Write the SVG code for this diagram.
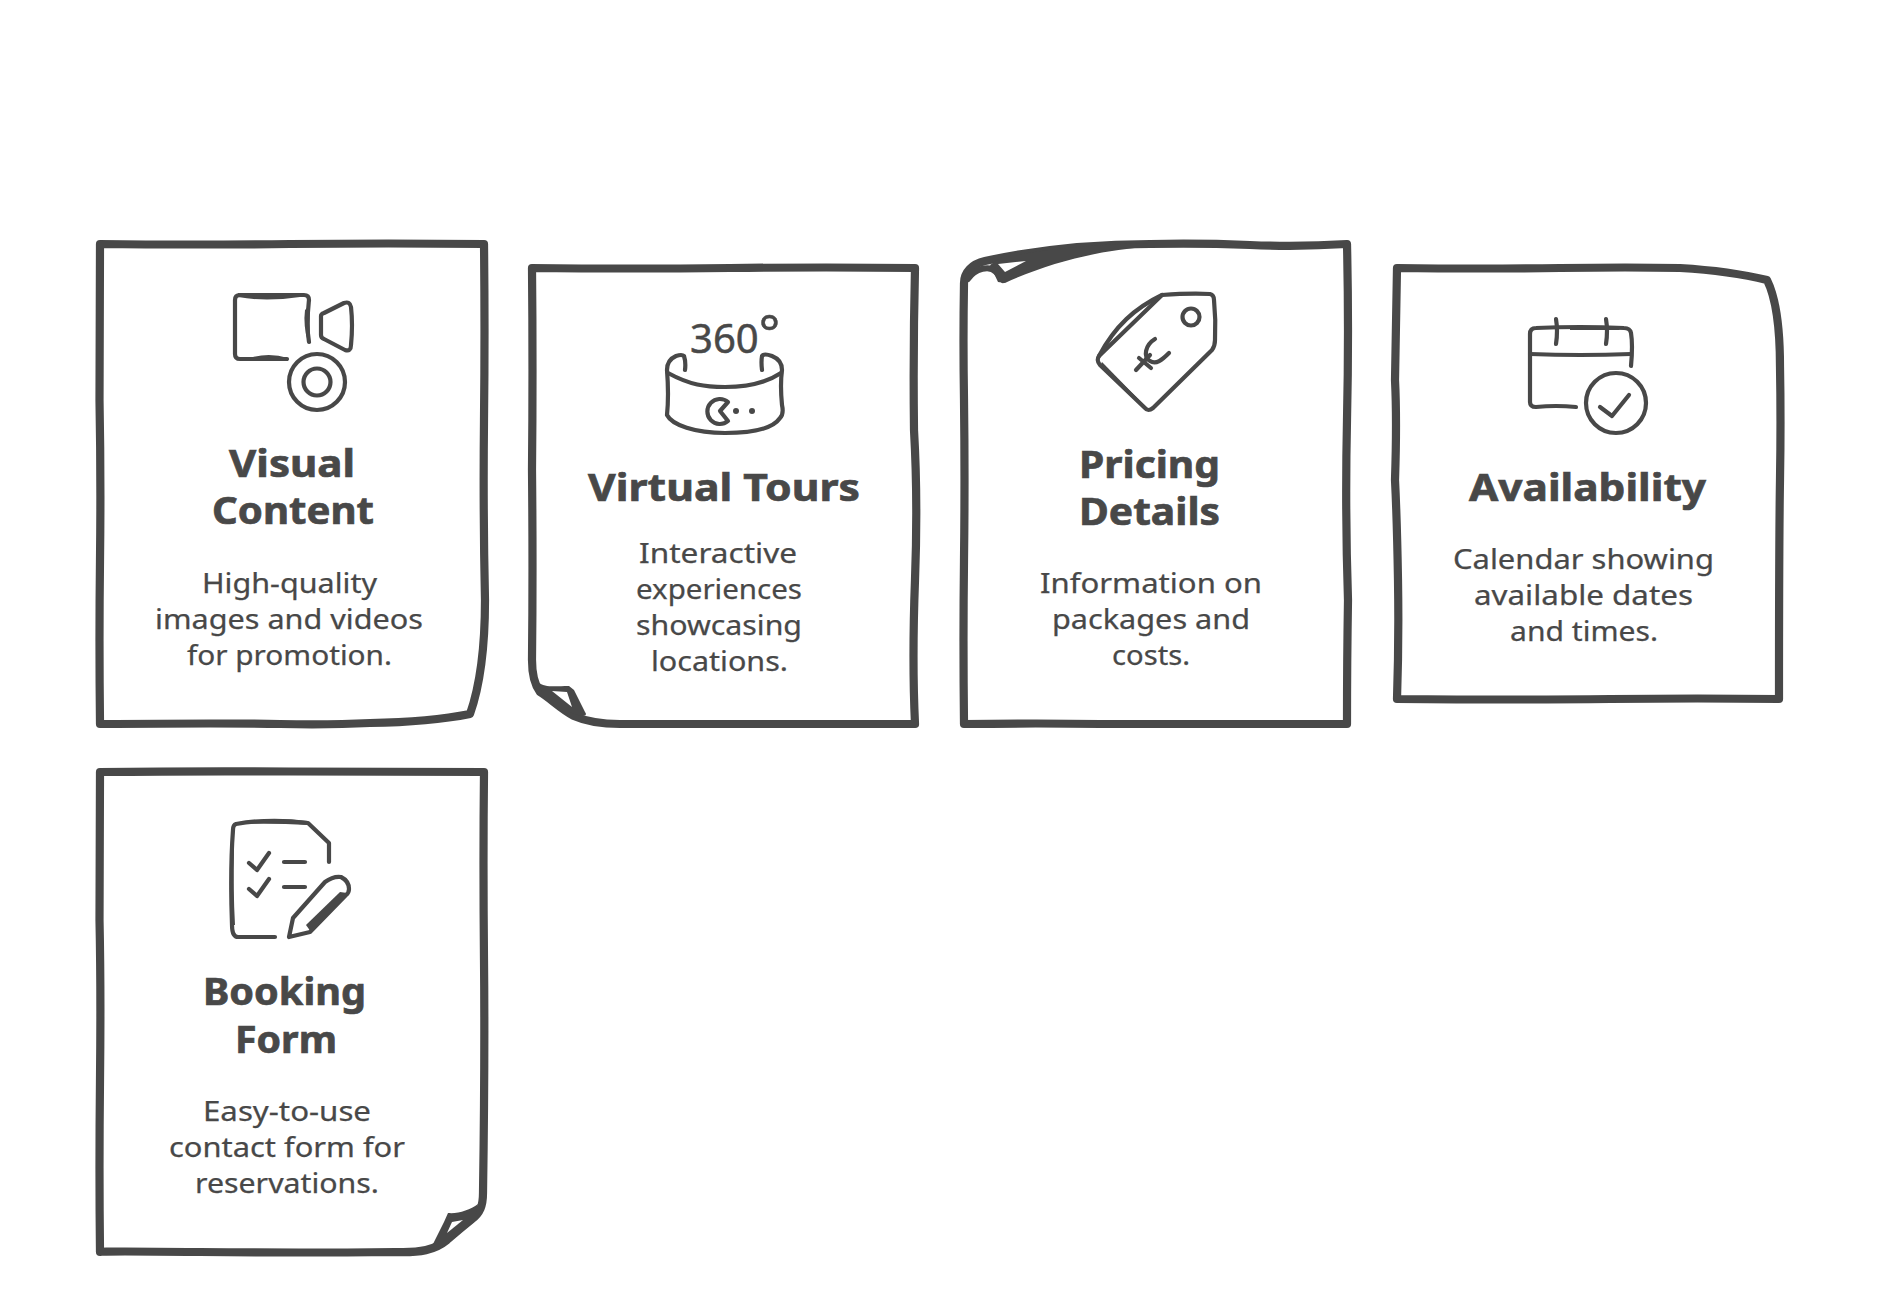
<svg xmlns="http://www.w3.org/2000/svg" width="1880" height="1304" viewBox="0 0 1880 1304">
<style>
.card{fill:#fff;stroke:#484848;stroke-width:8.2;stroke-linejoin:round;stroke-linecap:round}
.fold{fill:none;stroke:#484848;stroke-width:6;stroke-linejoin:round;stroke-linecap:round}
.flap{fill:#484848;stroke:none}
.flapw{fill:#fff;stroke:none}
.ic{fill:none;stroke:#484848;stroke-width:4.2;stroke-linejoin:round;stroke-linecap:round}
.thick{fill:#484848;stroke:none}
.dot{fill:#484848}
.t{font-family:"Noto Sans","Liberation Sans",sans-serif;font-size:38px;font-weight:700;fill:#484848;stroke:#484848;stroke-width:.7}
.b{font-family:"Noto Sans","Liberation Sans",sans-serif;font-size:28px;font-weight:400;fill:#484848;stroke:#484848;stroke-width:.25}
.n{font-family:"Noto Sans","Liberation Sans",sans-serif;font-size:40px;font-weight:400;fill:#484848;stroke:#484848;stroke-width:.5}
</style>
<rect width="1880" height="1304" fill="#fff"/>

<g id="visual-content">
<path class="card" d="M100 244Q190 245 290 244T484 244Q485 330 484 420T485 600C485 640 482 680 470 714Q430 722 370 723Q330 725 280 724T100 724Q99 640 100 560T99.500 400Q100 320 100 244Z"/>
<g>
<path class="ic" d="M309 342C306 325 308 310 309 300Q309 295 304 295H240Q235 295 235 300V354Q235 359 240 359H287"/>
<path class="thick" d="M238 293Q265 300 300 293L300 297Q265 302 238 297Z"/>
<path class="thick" d="M240 361Q265 351 288 358L288 361Z"/>
<path class="thick" d="M305 310Q303 325 308 342L310 342Q309 325 310 305Z"/>
<path class="ic" d="M321 316Q321 314 324 313L344 303Q350 301 351 307Q353 325 351 345Q351 352 345 350L324 339Q321 338 321 335Z"/>
<circle class="ic" cx="317" cy="382" r="28"/>
<circle class="ic" cx="317" cy="382" r="13.5"/>
</g>
<text class="t" x="229" y="477" textLength="126" lengthAdjust="spacingAndGlyphs">Visual</text>
<text class="t" x="212" y="524" textLength="162" lengthAdjust="spacingAndGlyphs">Content</text>
<text class="b" x="202" y="593" textLength="175" lengthAdjust="spacingAndGlyphs">High-quality</text>
<text class="b" x="155" y="629" textLength="268" lengthAdjust="spacingAndGlyphs">images and videos</text>
<text class="b" x="187" y="665" textLength="205" lengthAdjust="spacingAndGlyphs">for promotion.</text>
</g>

<g id="virtual-tours">
<path class="card" d="M532 268Q630 269 730 268T915 268Q913 350 914 430Q918 500 915 580T915 724H620Q592 724 574 716C562 710 550 698 540 692C534 684 532 672 532 660Q533 570 532 470Q533 370 532 268Z"/>
<path class="flap" d="M538 682C545 688 555 686 569 686L574 690L585 712C590 718 575 716 566 710L542 692Z"/>
<path class="flapw" d="M552 691L567 692L572 707Z"/>
<g>
<path class="ic" d="M685 370Q686 362 684 356Q682 354 676 356Q667 360 667 370Q669 395 667 415C672 425 695 433 725 433Q770 433 780 418Q784 414 782 405Q780 385 782 370Q782 360 772 356Q764 353 762 356Q761 362 762 370"/>
<path class="ic" d="M668 373C690 385 705 387 725 387Q760 387 781 373"/>
<path class="ic" d="M728 402A12.500 12.500 0 1 0 728 421L720 411Z"/>
<circle class="dot" cx="736" cy="411" r="3"/>
<circle class="dot" cx="752" cy="411" r="3"/>
<text class="n" x="690" y="353">360<tspan dy="-2" font-size="50">°</tspan></text>
</g>
<text class="t" x="588" y="501" textLength="272" lengthAdjust="spacingAndGlyphs">Virtual Tours</text>
<text class="b" x="639" y="563" textLength="158" lengthAdjust="spacingAndGlyphs">Interactive</text>
<text class="b" x="636" y="599" textLength="166" lengthAdjust="spacingAndGlyphs">experiences</text>
<text class="b" x="636" y="635" textLength="166" lengthAdjust="spacingAndGlyphs">showcasing</text>
<text class="b" x="651" y="671" textLength="137" lengthAdjust="spacingAndGlyphs">locations.</text>
</g>

<g id="pricing-details">
<path class="card" d="M964 283C964 272 972 264 985 261C1040 249 1090 244 1150 244Q1200 243 1250 245T1347 244Q1349 330 1347 420T1348 600Q1347 660 1347 724H1100Q1040 723 964 724Q963 640 964 560T964 400Q963 340 964 283Z"/>
<path class="flap" d="M1000 258C1050 248 1100 244 1150 243L1150 247C1105 249 1050 262 1005 283L998 282L990 265Z"/>
<path class="flapw" d="M998 264L1026 261L1005 272Z"/>
<path class="fold" d="M968 279C975 268 990 265 996 272L1003 280"/>
<g>
<path class="ic" d="M1162 295Q1190 293 1210 294Q1214 295 1214 300Q1216 320 1215 340Q1215 346 1212 350L1153 408Q1148 412 1145 408L1100 365Q1096 360 1099 356L1161 296"/>
<path class="ic" d="M1099 356C1115 326 1135 308 1162 295"/>
<path class="thick" d="M1100 366L1146 411L1146 407L1102 362Z"/>
<circle class="ic" cx="1191" cy="317" r="8.500"/>
<path class="ic" d="M1155 339C1145 345 1143 357 1150 361C1156 365 1162 360 1169 353"/>
<path class="ic" d="M1136 370L1150 355M1139 358L1151 368"/>
</g>
<text class="t" x="1079" y="478" textLength="141" lengthAdjust="spacingAndGlyphs">Pricing</text>
<text class="t" x="1079" y="525" textLength="141" lengthAdjust="spacingAndGlyphs">Details</text>
<text class="b" x="1040" y="593" textLength="222" lengthAdjust="spacingAndGlyphs">Information on</text>
<text class="b" x="1052" y="629" textLength="198" lengthAdjust="spacingAndGlyphs">packages and</text>
<text class="b" x="1112" y="665" textLength="78" lengthAdjust="spacingAndGlyphs">costs.</text>
</g>

<g id="availability">
<path class="card" d="M1397 268Q1480 269 1560 268Q1630 267 1680 268Q1730 271 1767 280C1777 300 1780 330 1780 367Q1781 420 1780 480T1779 699Q1700 698 1610 699T1397 699Q1399 640 1398 580T1395 480Q1397 420 1395 380Q1396 320 1397 268Z"/>
<g>
<path class="ic" d="M1631 366Q1633 345 1631 333Q1630 328 1624 328Q1580 326 1536 328Q1530 328 1530 334V402Q1530 407 1536 407Q1556 405 1576 407"/>
<path class="ic" d="M1530 354Q1580 356 1631 354"/>
<path class="thick" d="M1570 326H1615L1620 330H1570Z"/>
<path class="ic" d="M1556 319Q1558 331 1556 344M1606 319Q1608 331 1606 344"/>
<circle class="ic" cx="1616" cy="403" r="30"/>
<path class="ic" d="M1600 407L1612 416L1629 395"/>
</g>
<text class="t" x="1469" y="501" textLength="237" lengthAdjust="spacingAndGlyphs">Availability</text>
<text class="b" x="1453" y="569" textLength="261" lengthAdjust="spacingAndGlyphs">Calendar showing</text>
<text class="b" x="1474" y="605" textLength="219" lengthAdjust="spacingAndGlyphs">available dates</text>
<text class="b" x="1510" y="641" textLength="148" lengthAdjust="spacingAndGlyphs">and times.</text>
</g>

<g id="booking-form">
<path class="card" d="M100 772Q190 771 290 771.500T484 772Q483 860 484 960T483 1193C483 1206 480 1213 472 1219C462 1227 455 1233 447 1240C435 1250 420 1253 395 1252Q300 1253 200 1252T100 1252Q99 1170 100 1080T99.500 920Q100 850 100 772Z"/>
<path class="flap" d="M448 1213C458 1214 470 1210 478 1204L474 1222L446 1244L433 1244L444 1222Z"/>
<path class="flapw" d="M452 1222L463 1220L447 1233Z"/>
<g>
<path class="ic" d="M329 862V843L308 823Q270 818 236 824Q233 825 233 830Q230 870 232 925Q232 937 238 937H275"/>
<path class="thick" d="M240 822Q275 817 308 821L308 825Q275 823 240 824Z"/>
<path class="thick" d="M233 850Q227 890 232 925L235 925Q233 890 234 850Z"/>
<path class="ic" d="M249 863L257 870L269 853M249 889L257 896L269 879"/>
<path class="ic" d="M284 862H305M284 887H305"/>
<path class="ic" d="M289 937L293 918L325 882Q333 876 341 877Q349 881 349 889Q349 893 346 895L310 932Z"/>
<path class="thick" d="M311 932L347 893L340 892L306 925Z"/>
</g>
<text class="t" x="203" y="1005" textLength="163" lengthAdjust="spacingAndGlyphs">Booking</text>
<text class="t" x="235" y="1053" textLength="102" lengthAdjust="spacingAndGlyphs">Form</text>
<text class="b" x="203" y="1121" textLength="168" lengthAdjust="spacingAndGlyphs">Easy-to-use</text>
<text class="b" x="169" y="1157" textLength="236" lengthAdjust="spacingAndGlyphs">contact form for</text>
<text class="b" x="195" y="1193" textLength="184" lengthAdjust="spacingAndGlyphs">reservations.</text>
</g>
</svg>
